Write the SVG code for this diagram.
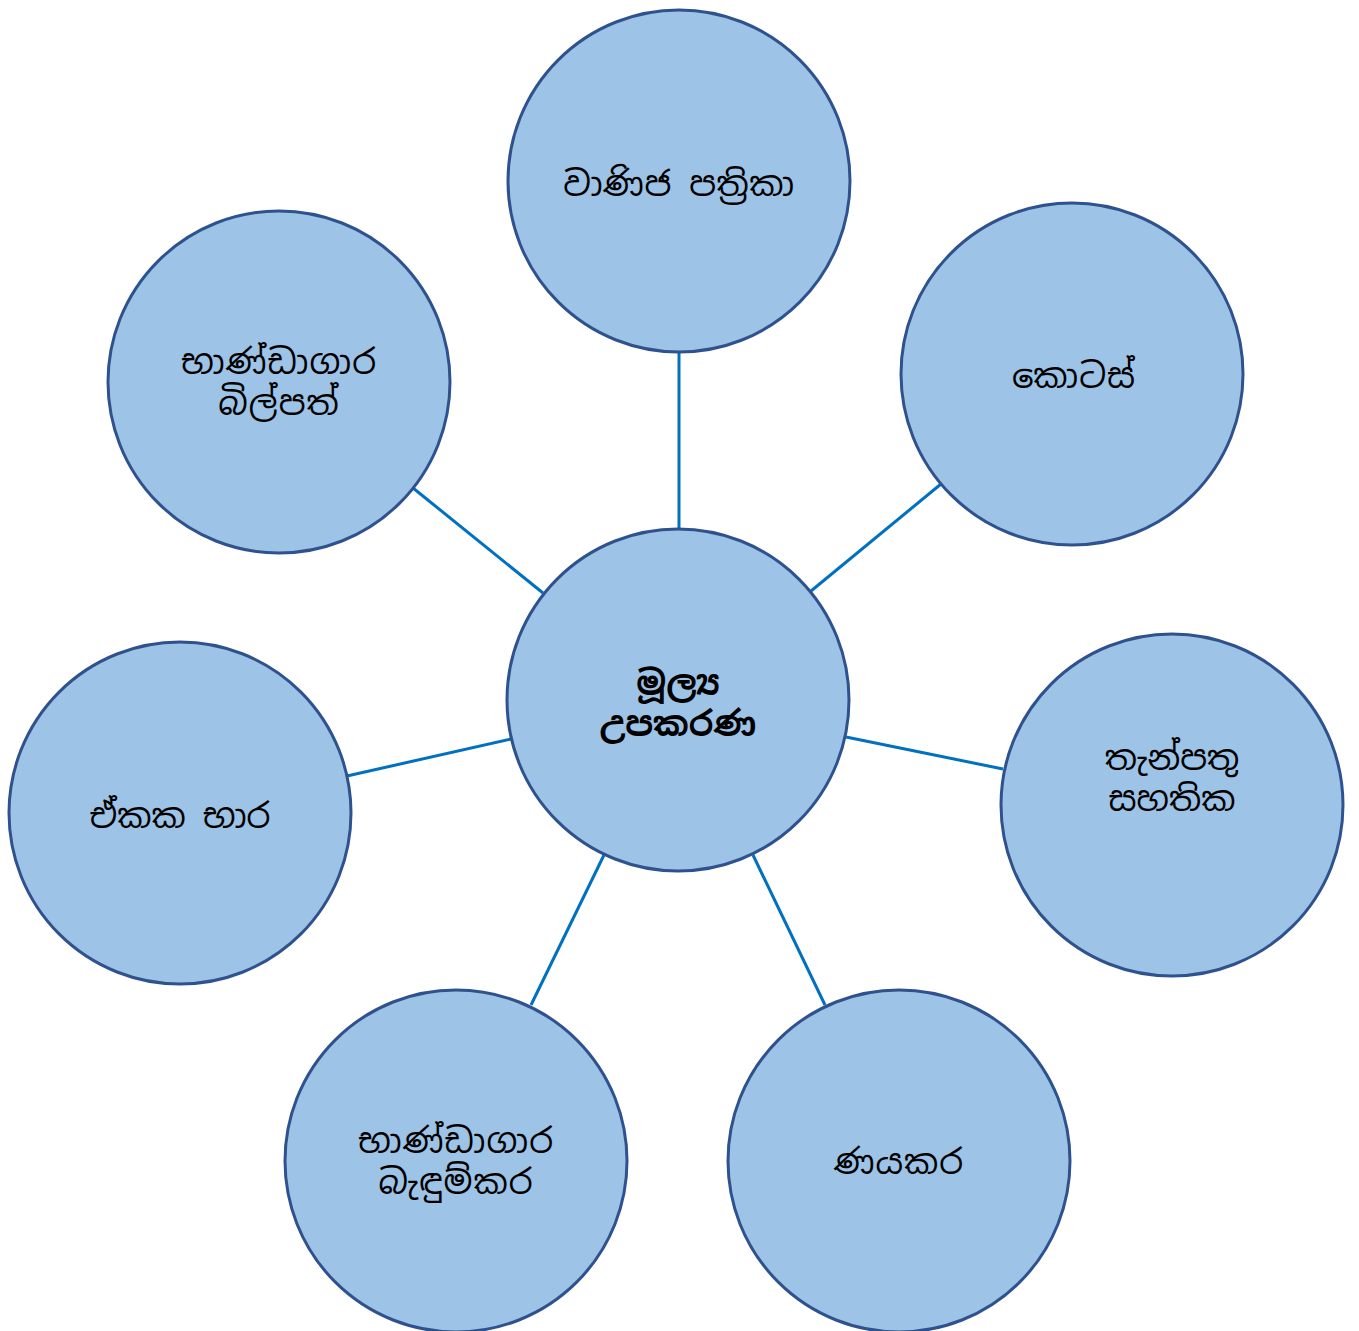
<svg xmlns="http://www.w3.org/2000/svg" width="1359" height="1331" viewBox="0 0 1359 1331">
<style>
.n{fill:#9DC3E6;stroke:#2F528F;stroke-width:3}
.t{font-family:"Noto Sans Sinhala","Iskoola Pota","Noto Sans","DejaVu Sans",sans-serif;font-size:34px;fill:#000;text-anchor:middle}
.b{font-weight:bold}
.c line{stroke:#0070C0;stroke-width:3}
</style>
<rect width="1359" height="1331" fill="#fff"/>
<g class="c" id="connectors">
<line x1="679" y1="353" x2="679" y2="529"/>
<line x1="811" y1="591" x2="941" y2="484"/>
<line x1="846" y1="737" x2="1003" y2="769"/>
<line x1="753" y1="855" x2="825" y2="1005"/>
<line x1="604" y1="855" x2="531" y2="1005"/>
<line x1="511" y1="739" x2="347" y2="776"/>
<line x1="543" y1="593" x2="413" y2="488"/>
</g>
<g id="center"><circle class="n" cx="678" cy="700" r="171"/><text class="t b" x="678" y="695">මූල්‍ය</text><text class="t b" x="678" y="736">උපකරණ</text></g>
<g id="top"><circle class="n" cx="679" cy="181" r="171"/><text class="t" x="679" y="196" letter-spacing="0.5">වාණිජ පත්‍රිකා</text></g>
<g id="topright"><circle class="n" cx="1072" cy="374" r="171"/><text class="t" x="1074" y="388" letter-spacing="1">කොටස්</text></g>
<g id="right"><circle class="n" cx="1172" cy="805" r="171"/><text class="t" x="1172" y="770">තැන්පතු</text><text class="t" x="1172" y="811">සහතික</text></g>
<g id="bottomright"><circle class="n" cx="899" cy="1161" r="171"/><text class="t" x="899" y="1174" letter-spacing="1">ණයකර</text></g>
<g id="bottomleft"><circle class="n" cx="456" cy="1161" r="171"/><text class="t" x="456" y="1153" letter-spacing="1">භාණ්ඩාගාර</text><text class="t" x="456" y="1194" letter-spacing="1">බැඳුම්කර</text></g>
<g id="left"><circle class="n" cx="180" cy="813" r="171"/><text class="t" x="180" y="828">ඒකක භාර</text></g>
<g id="topleft"><circle class="n" cx="279" cy="382" r="171"/><text class="t" x="279" y="374" letter-spacing="1">භාණ්ඩාගාර</text><text class="t" x="279" y="415" letter-spacing="1">බිල්පත්</text></g>
</svg>
